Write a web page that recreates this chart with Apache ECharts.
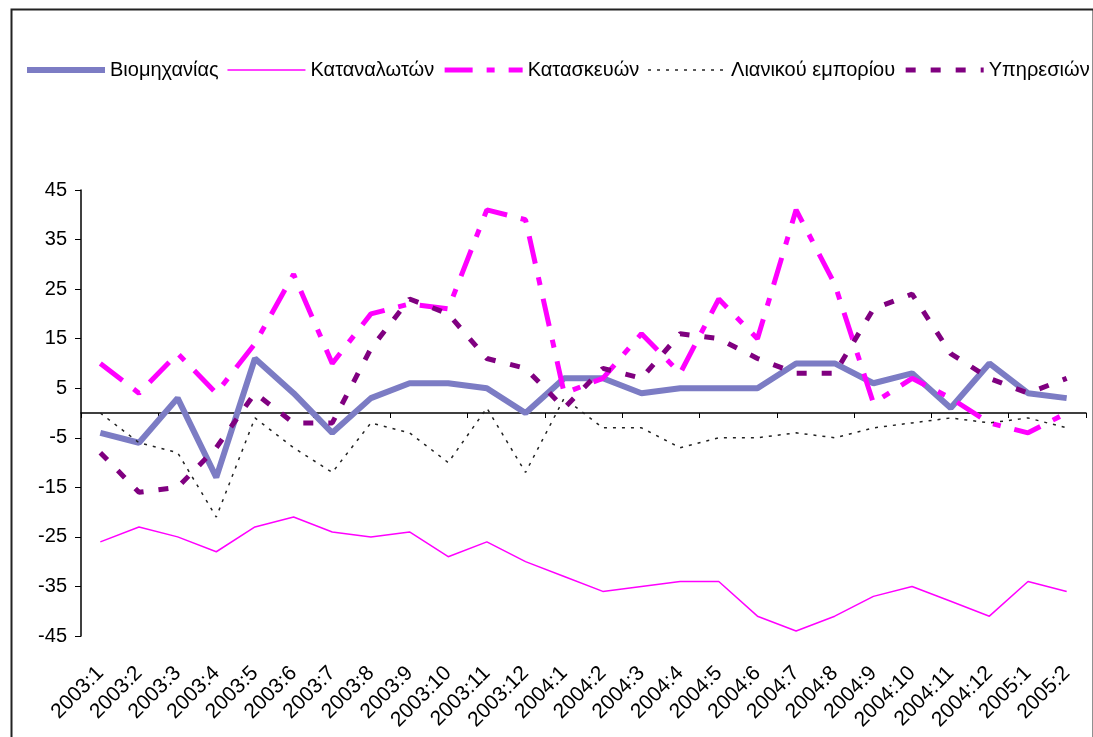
<!DOCTYPE html>
<html>
<head>
<meta charset="utf-8">
<title>Δείκτες εμπιστοσύνης</title>
<script src="https://cdn.jsdelivr.net/npm/echarts@6/dist/echarts.min.js"></script>
<style>
  html, body { margin: 0; padding: 0; background: #fff; }
  #main { width: 1093px; height: 737px; }
</style>
</head>
<body>
<div id="main"></div>
<script>
// μήνες
var months = ["2003:1", "2003:2", "2003:3", "2003:4", "2003:5", "2003:6", "2003:7", "2003:8",
  "2003:9", "2003:10", "2003:11", "2003:12", "2004:1", "2004:2", "2004:3", "2004:4",
  "2004:5", "2004:6", "2004:7", "2004:8", "2004:9", "2004:10", "2004:11", "2004:12",
  "2005:1", "2005:2"];

var biomixanias = [-4, -6, 3, -13, 11, 4, -4, 3, 6, 6, 5, 0, 7, 7, 4, 5, 5, 5, 10, 10, 6, 8, 1, 10, 4, 3];
var katanalwtwn = [-26, -23, -25, -28, -23, -21, -24, -25, -24, -29, -26, -30, -33, -36, -35, -34, -34, -41, -44, -41, -37, -35, -38, -41, -34, -36];
var kataskeuwn = [10, 4, 12, 4, 14, 28, 10, 20, 22, 21, 41, 39, 4, 7, 16, 8, 23, 15, 41, 26, 2, 7, 3, -2, -4, 0];
var lianikou = [0, -6, -8, -21, -1, -7, -12, -2, -4, -10, 1, -12, 3, -3, -3, -7, -5, -5, -4, -5, -3, -2, -1, -2, -1, -3];
var ypiresiwn = [-8, -16, -15, -7, 4, -2, -2, 13, 23, 20, 11, 9, 1, 9, 7, 16, 15, 11, 8, 8, 21, 24, 12, 7, 4, 7];

var seriesNames = ["Βιομηχανίας", "Καταναλωτών", "Κατασκευών", "Λιανικού εμπορίου", "Υπηρεσιών"];

var font = "Liberation Sans, Arial, sans-serif";

// στυλ γραμμών (ίδια στο γράφημα και στο υπόμνημα)
var lineStyles = [
  { width: 6, color: "#7C7CC4", type: "solid" },
  { width: 1.5, color: "#FF00FF", type: "solid" },
  { width: 5, color: "#FF00FF", type: [28, 14, 8, 14] },
  { width: 1.5, color: "#222", type: [3, 6] },
  { width: 5, color: "#800080", type: [10, 15] }
];
var seriesData = [biomixanias, katanalwtwn, kataskeuwn, lianikou, ypiresiwn];

var myChart = echarts.init(document.getElementById("main"));

var option = {
  backgroundColor: "#fff",
  animation: false,
  graphic: [
    {
      type: "rect",
      left: 9,
      top: 7,
      shape: { width: 1082, height: 760 },
      style: { fill: "none", stroke: "#222", lineWidth: 2 },
      silent: true
    }
  ],
  legend: {
    data: seriesNames.map(function (n, i) {
      return { name: n, itemStyle: { opacity: 0 }, lineStyle: lineStyles[i] };
    }),
    left: 24,
    top: 60,
    padding: 0,
    itemWidth: 78,
    itemHeight: 14,
    itemGap: 8,
    textStyle: { fontFamily: font, fontSize: 20, color: "#000" }
  },
  grid: {
    left: 81,
    right: 7,
    top: 190,
    bottom: 101,
    containLabel: false,
    outerBoundsMode: "none"
  },
  xAxis: [
    {
      // ετικέτες στο κάτω μέρος
      type: "category",
      data: months,
      position: "bottom",
      boundaryGap: true,
      axisLine: { show: false, onZero: false },
      axisTick: { show: false },
      axisLabel: {
        rotate: 45,
        margin: 34,
        interval: 0,
        fontFamily: font,
        fontSize: 21,
        color: "#000"
      },
      splitLine: { show: false }
    },
    {
      // άξονας στο μηδέν
      type: "category",
      data: months,
      position: "bottom",
      boundaryGap: true,
      axisLine: { onZero: true, lineStyle: { color: "#000", width: 1.5 } },
      axisTick: { show: true, length: 5, lineStyle: { color: "#000" } },
      axisLabel: { show: false },
      splitLine: { show: false }
    }
  ],
  yAxis: {
    type: "value",
    min: -45,
    max: 45,
    interval: 10,
    axisLine: { show: true, lineStyle: { color: "#000", width: 1.5 } },
    axisTick: { show: true, length: 6, lineStyle: { color: "#000" } },
    axisLabel: { fontFamily: font, fontSize: 20, color: "#000", margin: 14 },
    splitLine: { show: false }
  },
  series: seriesNames.map(function (n, i) {
    return {
      name: n,
      type: "line",
      xAxisIndex: 0,
      data: seriesData[i],
      symbol: "none",
      color: lineStyles[i].color,
      lineStyle: lineStyles[i]
    };
  })
};

myChart.setOption(option);
</script>
</body>
</html>
